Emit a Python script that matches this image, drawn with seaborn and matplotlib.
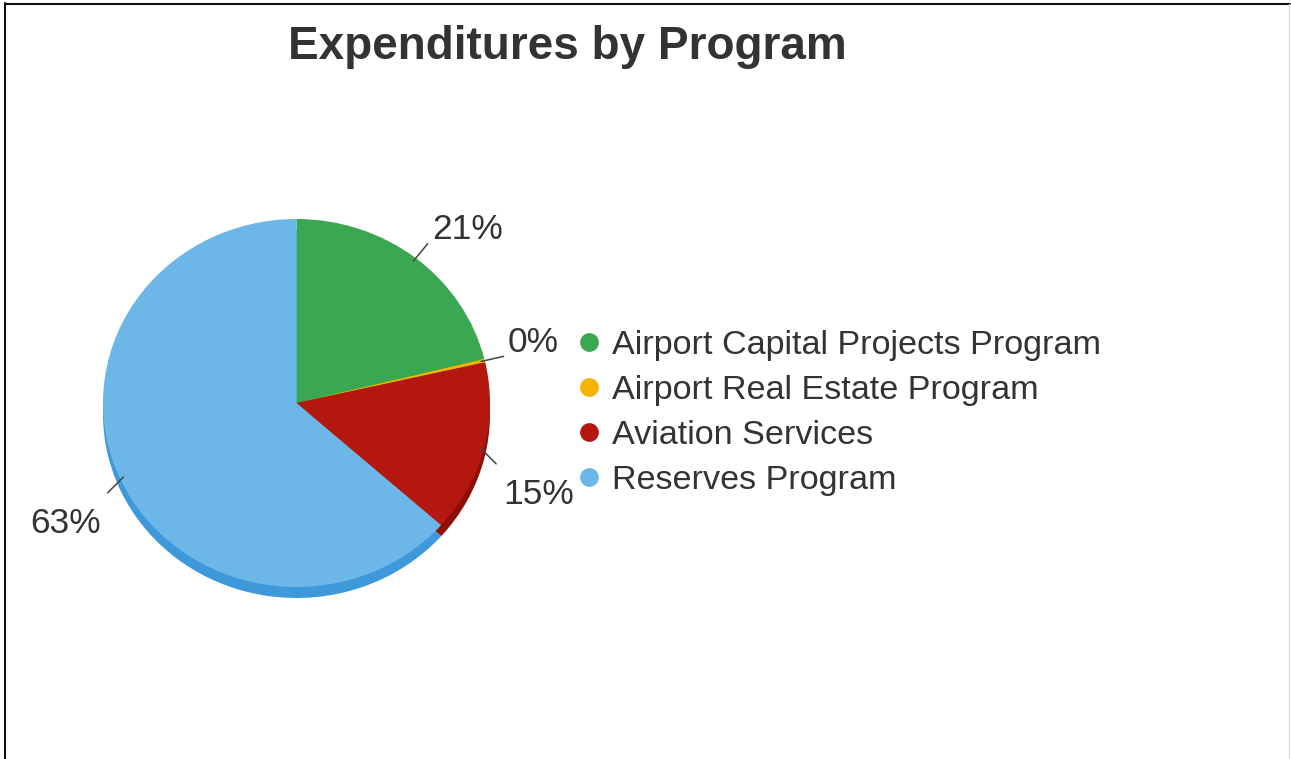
import matplotlib
matplotlib.use("Agg")
import matplotlib.pyplot as plt
from matplotlib.lines import Line2D
import numpy as np
import seaborn as sns

programs = [
    "Airport Capital Projects Program",
    "Airport Real Estate Program",
    "Aviation Services",
    "Reserves Program",
]
shares = [21, 0.3, 15, 63]
face_colors = ["#3aa853", "#f4b400", "#b3170d", "#6cb6e8"]
rim_colors = ["#2a8a3f", "#d09a00", "#8c1008", "#3d99d9"]

sns.set_theme(style="white")
plt.rcParams["font.family"] = ["Liberation Sans", "DejaVu Sans"]

W, H = 1291, 759
fig = plt.figure(figsize=(W / 100, H / 100), dpi=100)
fig.patch.set_facecolor("white")

# Pie box in pixels (slightly flattened face plus a thin rim below it)
left, right, top, face_bottom, rim = 103, 490, 219, 587, 11
ax = fig.add_axes([left / W, 1 - (face_bottom + rim) / H,
                   (right - left) / W, (face_bottom + rim - top) / H])
depth = 2 * rim / (face_bottom - top)
px_x = (right - left) / 2          # pixels per data unit, horizontal
px_y = (face_bottom - top) / 2     # pixels per data unit, vertical

ax.pie(shares, colors=rim_colors, startangle=90, counterclock=False,
       center=(0, -depth), wedgeprops=dict(linewidth=0))
wedges, _ = ax.pie(shares, colors=face_colors, startangle=90, counterclock=False,
                   wedgeprops=dict(linewidth=0))
ax.set_aspect("auto")
ax.set_xlim(-1, 1)
ax.set_ylim(-1 - depth, 1)
ax.axis("off")

# Percentage labels with short leader lines: radial above the centre,
# dropping diagonally below it
total = sum(shares)
for w, v in zip(wedges, shares):
    ang = np.deg2rad((w.theta1 + w.theta2) / 2)
    c, s = np.cos(ang), np.sin(ang)
    x0, y0 = 0.98 * c, 0.98 * s
    if s >= 0:
        x1, y1 = 1.1 * c, 1.1 * s
        off = (3 if c > 0 else -3, -2)
    else:
        x1, y1 = x0 + np.sign(c) * 16 / px_x, y0 - 16 / px_y
        off = (5 if c > 0 else -5, -10)
    ax.plot([x0, x1], [y0, y1], color="#444444", lw=1.1, clip_on=False)
    ax.annotate(f"{v / total * 100:.0f}%", xy=(x1, y1), xytext=off,
                textcoords="offset points",
                ha="left" if c > 0 else "right",
                va="bottom" if s > 0 else "top",
                fontsize=25.5, color="#333333", annotation_clip=False)

# Legend
handles = [Line2D([], [], marker="o", linestyle="none", markersize=13.5,
                  markerfacecolor=col, markeredgewidth=0) for col in face_colors]
fig.legend(handles, programs, loc="center left",
           bbox_to_anchor=(580 / W, 1 - 413 / H), frameon=False,
           fontsize=24.6, handlelength=0.55, handletextpad=0.4,
           borderpad=0, borderaxespad=0, labelspacing=0.41,
           labelcolor="#333333")

# Title
fig.text(567 / W, 1 - 59 / H, "Expenditures by Program", ha="center",
         va="baseline", fontsize=33, fontweight="bold", color="#333333")

# Outer frame
fig.add_artist(Line2D([5 / W, 5 / W], [0, 1 - 3 / H], transform=fig.transFigure,
                      color="#111111", lw=1.5))
fig.add_artist(Line2D([5 / W, 1290 / W], [1 - 4 / H, 1 - 4 / H],
                      transform=fig.transFigure, color="#111111", lw=1.5))
fig.add_artist(Line2D([1289 / W, 1289 / W], [0, 1 - 4 / H],
                      transform=fig.transFigure, color="#dddddd", lw=1.0))

fig.savefig("out.png", dpi=100, facecolor="white")
